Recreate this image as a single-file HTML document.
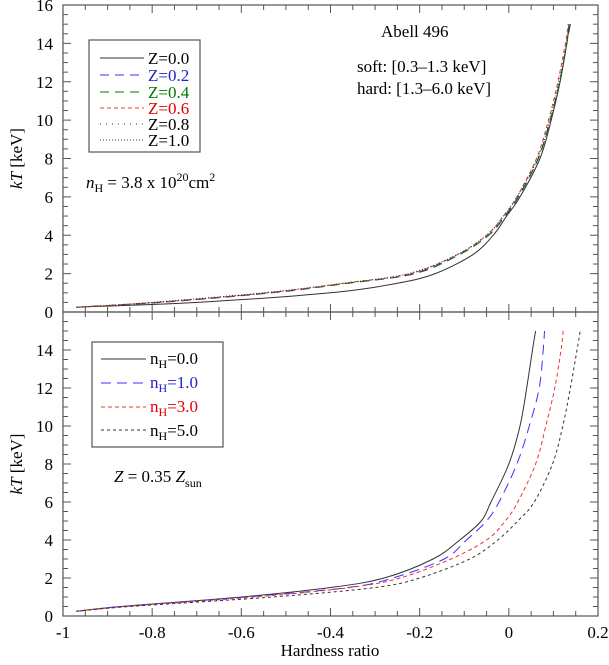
<!DOCTYPE html>
<html><head><meta charset="utf-8"><style>
body{margin:0;background:#fff}
svg text{font-family:"Liberation Serif",serif}
</style></head><body>
<svg id="c" width="609" height="660" viewBox="0 0 609 660">
</svg>
<script>
// ---- data ----
const kT = [0.25,0.5,1,1.5,2,3,4,5,6,8,10,12,14,15];
const hrZ00 = [-0.97,-0.70,-0.40,-0.25,-0.165,-0.08,-0.035,-0.005,0.025,0.07,0.095,0.115,0.13,0.135];
const hrZ02 = [-0.97,-0.78,-0.53,-0.36,-0.21,-0.11,-0.045,-0.008,0.022,0.066,0.093,0.114,0.13,0.137];
const hrZ04 = [-0.97,-0.79,-0.54,-0.36,-0.215,-0.11,-0.046,-0.009,0.021,0.066,0.093,0.114,0.13,0.138];
const hrZ06 = [-0.97,-0.79,-0.54,-0.37,-0.22,-0.115,-0.05,-0.012,0.018,0.062,0.089,0.11,0.127,0.133];
const hrZ08 = [-0.97,-0.80,-0.55,-0.37,-0.22,-0.115,-0.05,-0.012,0.018,0.064,0.091,0.112,0.129,0.136];
const hrZ10 = [-0.97,-0.80,-0.55,-0.37,-0.225,-0.115,-0.05,-0.012,0.018,0.065,0.092,0.113,0.13,0.137];
const hrN0 = [-0.97,-0.87,-0.60,-0.40,-0.28,-0.17,-0.11,-0.062,-0.04,0.0,0.025,0.04,0.053,0.06];
const hrN1 = [-0.97,-0.87,-0.59,-0.36,-0.26,-0.145,-0.095,-0.05,-0.022,0.018,0.046,0.068,0.077,0.08];
const hrN3 = [-0.97,-0.86,-0.57,-0.356,-0.244,-0.13,-0.05,-0.008,0.02,0.06,0.083,0.103,0.117,0.122];
const hrN5 = [-0.97,-0.85,-0.53,-0.30,-0.20,-0.088,-0.025,0.02,0.057,0.098,0.121,0.138,0.153,0.16];
const xTicks = [-1,-0.8,-0.6,-0.4,-0.2,0,0.2];
const xTickLabels = ["-1","-0.8","-0.6","-0.4","-0.2","0","0.2"];
const yTicksTop = [0,2,4,6,8,10,12,14,16];
const yTicksBot = [0,2,4,6,8,10,12,14];

// ---- layout ----
const X0=63,X1=598;
const xS=v=>X0+(v+1)/1.2*(X1-X0);
const yTop=v=>312-v*(307/16);
const yBot=v=>616-v*(304/16);
const svg=document.getElementById('c');
const NS='http://www.w3.org/2000/svg';
function mk(tag,attrs,parent){const e=document.createElementNS(NS,tag);for(const k in attrs)e.setAttribute(k,attrs[k]);(parent||svg).appendChild(e);return e;}

function panel(name,yS,yMaxV,yticks,top,bottom){
  const g=mk('g',{});
  
  
  mk('rect',{x:X0,y:top,width:X1-X0,height:bottom-top,fill:'none',stroke:'#555','stroke-width':1.2},g);
  for(let v=-1;v<=0.2001;v+=0.05){
    const x=xS(v);const major=Math.abs(v*5-Math.round(v*5))<1e-6;const L=major?8:5;
    mk('line',{x1:x,y1:bottom,x2:x,y2:bottom-L,stroke:'#555'},g);
    mk('line',{x1:x,y1:top,x2:x,y2:top+L,stroke:'#555'},g);
  }
  for(let v=0;v<=yMaxV+0.001;v+=0.5){
    const y=yS(v);const major=Math.abs(v/2-Math.round(v/2))<1e-6;const L=major?8:5;
    mk('line',{x1:X0,y1:y,x2:X0+L,y2:y,stroke:'#555'},g);
    mk('line',{x1:X1,y1:y,x2:X1-L,y2:y,stroke:'#555'},g);
  }
  yticks.forEach(v=>{
    const t=mk('text',{x:X0-10,y:yS(v)+6,'text-anchor':'end','font-size':17},g);
    t.textContent=v;
    
    
  });
  const yl=mk('text',{transform:`translate(22,${(top+bottom)/2}) rotate(-90)`,'text-anchor':'middle','font-size':17},g);
  yl.innerHTML='<tspan font-style="italic">kT</tspan> [keV]';
  
  
}
panel('top-panel',yTop,16,yTicksTop,5,312);
panel('bottom-panel',yBot,15.5,yTicksBot,312,616);

function series(name,hr,yS,color,dash,w){
  const P=hr.map((h,i)=>[xS(h),yS(kT[i])]);
  let d='M'+P[0][0].toFixed(1)+','+P[0][1].toFixed(1);
  for(let i=0;i<P.length-1;i++){
    const p0=P[Math.max(i-1,0)],p1=P[i],p2=P[i+1],p3=P[Math.min(i+2,P.length-1)];
    const c1=[p1[0]+(p2[0]-p0[0])/6,p1[1]+(p2[1]-p0[1])/6];
    const c2=[p2[0]-(p3[0]-p1[0])/6,p2[1]-(p3[1]-p1[1])/6];
    d+='C'+c1.map(v=>v.toFixed(1)).join(',')+' '+c2.map(v=>v.toFixed(1)).join(',')+' '+p2[0].toFixed(1)+','+p2[1].toFixed(1);
  }
  const p=mk('path',{d,fill:'none',stroke:color,'stroke-width':w||1,'stroke-dasharray':dash||'none'});
  
  
}
series('line-z00',hrZ00,yTop,'#333','');
series('line-z02',hrZ02,yTop,'#33f','9,6');
series('line-z04',hrZ04,yTop,'#070','9,6');
series('line-z06',hrZ06,yTop,'#e33','4,3');
series('line-z08',hrZ08,yTop,'#333','1,5');
series('line-z10',hrZ10,yTop,'#333','1,2');
series('line-nh0',hrN0,yBot,'#333','');
series('line-nh1',hrN1,yBot,'#33f','10,6');
series('line-nh3',hrN3,yBot,'#e33','4,3');
series('line-nh5',hrN5,yBot,'#333','3,3');

xTicks.forEach((v,i)=>{
  const t=mk('text',{x:xS(v),y:638,'text-anchor':'middle','font-size':17});
  t.textContent=xTickLabels[i];
  
  
});
</script>
<svg width="609" height="660" style="position:absolute;left:0;top:0">
<g font-family="Liberation Serif,serif" font-size="17">
<text x="330" y="656" text-anchor="middle">Hardness ratio</text>
<g>
<rect x="89" y="40" width="111" height="112" fill="#fff" stroke="#555" stroke-width="1.2"/>
<line x1="100" y1="58" x2="144" y2="58" stroke="#333"/><text x="148" y="64">Z=0.0</text>
<line x1="100" y1="75" x2="144" y2="75" stroke="#33f" stroke-dasharray="9,6"/><text x="148" y="81" fill="#22c">Z=0.2</text>
<line x1="100" y1="92" x2="144" y2="92" stroke="#070" stroke-dasharray="9,6"/><text x="148" y="98" fill="#070">Z=0.4</text>
<line x1="100" y1="108" x2="144" y2="108" stroke="#e33" stroke-dasharray="4,3"/><text x="148" y="114" fill="#d00">Z=0.6</text>
<line x1="100" y1="124" x2="144" y2="124" stroke="#333" stroke-dasharray="1,5"/><text x="148" y="130">Z=0.8</text>
<line x1="100" y1="140" x2="144" y2="140" stroke="#333" stroke-dasharray="1,2"/><text x="148" y="146">Z=1.0</text>
</g>
<text x="86" y="188"><tspan font-style="italic">n</tspan><tspan font-size="12" dy="4">H</tspan><tspan dy="-4"> = 3.8 x 10</tspan><tspan font-size="12" dy="-7">20</tspan><tspan dy="7">cm</tspan><tspan font-size="12" dy="-7">2</tspan></text>
<text x="381" y="37">Abell 496</text>
<text x="357" y="72">soft:  [0.3–1.3 keV]</text>
<text x="357" y="94">hard: [1.3–6.0 keV]</text>
<g>
<rect x="92" y="342" width="131" height="105" fill="#fff" stroke="#555" stroke-width="1.2"/>
<line x1="101" y1="359" x2="146" y2="359" stroke="#333"/><text x="150" y="364">n<tspan font-size="12" dy="4">H</tspan><tspan dy="-4">=0.0</tspan></text>
<line x1="101" y1="383" x2="146" y2="383" stroke="#33f" stroke-dasharray="10,6"/><text x="150" y="388" fill="#22c">n<tspan font-size="12" dy="4">H</tspan><tspan dy="-4">=1.0</tspan></text>
<line x1="101" y1="407" x2="146" y2="407" stroke="#e33" stroke-dasharray="4,3"/><text x="150" y="412" fill="#d00">n<tspan font-size="12" dy="4">H</tspan><tspan dy="-4">=3.0</tspan></text>
<line x1="101" y1="430" x2="146" y2="430" stroke="#333" stroke-dasharray="3,3"/><text x="150" y="436">n<tspan font-size="12" dy="4">H</tspan><tspan dy="-4">=5.0</tspan></text>
</g>
<text x="114" y="482"><tspan font-style="italic">Z</tspan> = 0.35 <tspan font-style="italic">Z</tspan><tspan font-size="12" dy="5">sun</tspan></text>
</g>
</svg>
</body></html>
